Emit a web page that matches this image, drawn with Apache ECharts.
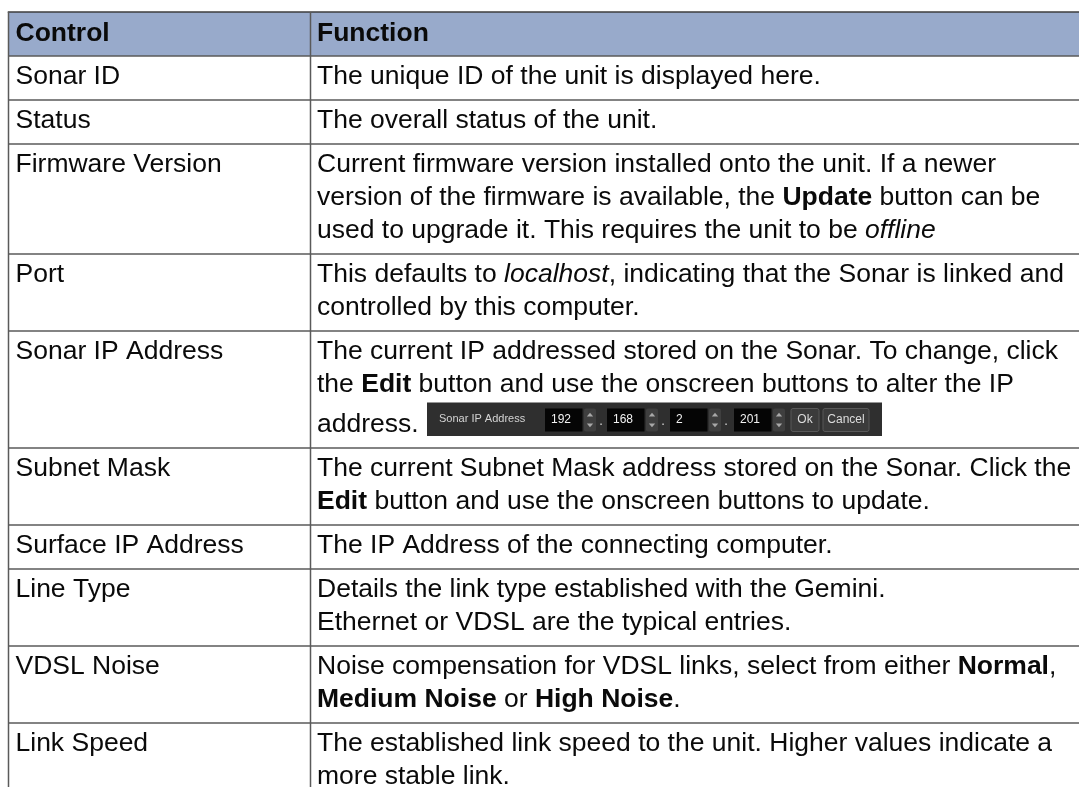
<!DOCTYPE html>
<html>
<head>
<meta charset="utf-8">
<script src="https://cdn.jsdelivr.net/npm/echarts@6/dist/echarts.min.js"></script>
<style>
html,body{margin:0;padding:0;background:#fff;}
#chart{width:1079px;height:787px;}
</style>
</head>
<body>
<div id="chart"></div>
<script>
// ---- data ----
const headers = ['Control', 'Function'];
const controls = ['Sonar ID', 'Status', 'Firmware Version', 'Port', 'Sonar IP Address',
  'Subnet Mask', 'Surface IP Address', 'Line Type', 'VDSL Noise', 'Link Speed'];
const functionLines = [
  ['The unique ID of the unit is displayed here.'],
  ['The overall status of the unit.'],
  ['Current firmware version installed onto the unit. If a newer',
   'version of the firmware is available, the {b|Update} button can be',
   'used to upgrade it. This requires the unit to be {i|offline}'],
  ['This defaults to {i|localhost}, indicating that the Sonar is linked and',
   'controlled by this computer.'],
  ['The current IP addressed stored on the Sonar. To change, click',
   'the {b|Edit} button and use the onscreen buttons to alter the IP',
   'address.'],
  ['The current Subnet Mask address stored on the Sonar. Click the',
   '{b|Edit} button and use the onscreen buttons to update.'],
  ['The IP Address of the connecting computer.'],
  ['Details the link type established with the Gemini.',
   'Ethernet or VDSL are the typical entries.'],
  ['Noise compensation for VDSL links, select from either {b|Normal},',
   '{b|Medium Noise} or {b|High Noise}.'],
  ['The established link speed to the unit. Higher values indicate a',
   'more stable link.']
];
// inline screenshot widget (row 'Sonar IP Address', last line)
const widgetRow = 'Sonar IP Address';
const widgetLabel = 'Sonar IP Address';
const ipOctets = ['192', '168', '2', '201'];
const widgetButtons = ['Ok', 'Cancel'];

// ---- layout ----
const W = 1079, H = 787;
const FONT = "'Liberation Sans', Arial, Helvetica, sans-serif";
const FS = 26.5;
const tableTop = 12, tableLeft = 8.5, colX = 310.5, tableRight = W + 2;
const firstBase = 30, lineStep = 33, rowBase = 44, widgetLineStep = 40;
const textPadL = 7, textPadF = 6.5;
const headerFill = '#98aacb', lineColor = '#5a5a5a', textColor = '#0a0a0a';

const ctx = document.createElement('canvas').getContext('2d');
function measure(txt, font) { ctx.font = font; return ctx.measureText(txt).width; }

const rich = {
  b: {fontWeight: 'bold', fontSize: FS, fontFamily: FONT, fill: textColor},
  i: {fontStyle: 'italic', fontSize: FS, fontFamily: FONT, fill: textColor}
};
function textEl(str, x, baseline, bold, z) {
  return {
    type: 'text', z: z || 10, silent: true,
    style: {
      text: str, x: x, y: baseline - 9.2,
      fontSize: FS, fontFamily: FONT, fontWeight: bold ? 'bold' : 'normal',
      fill: textColor, verticalAlign: 'middle', align: 'left', rich: rich
    }
  };
}
function line(x1, y1, x2, y2, color, w) {
  return {type: 'line', z: 20, silent: true,
    shape: {x1: x1, y1: y1, x2: x2, y2: y2},
    style: {stroke: color || lineColor, lineWidth: w || 1.5}};
}
function rect(x, y, w, h, fill, stroke, z, r) {
  return {type: 'rect', z: z || 30, silent: true,
    shape: {x: x, y: y, width: w, height: h, r: r || 0},
    style: {fill: fill, stroke: stroke || null, lineWidth: stroke ? 1 : 0}};
}
function smallText(str, x, y, color, size, align) {
  return {type: 'text', z: 40, silent: true,
    style: {text: str, x: x, y: y, fontSize: size || 12, fontFamily: FONT,
      fill: color, verticalAlign: 'middle', align: align || 'left'}};
}
function triangle(cx, cy, up) {
  const s = 3.2;
  const pts = up ? [[cx - s, cy + 1.6], [cx + s, cy + 1.6], [cx, cy - 2.2]]
                 : [[cx - s, cy - 1.6], [cx + s, cy - 1.6], [cx, cy + 2.2]];
  return {type: 'polygon', z: 41, silent: true, shape: {points: pts}, style: {fill: '#a8a8a8'}};
}

function buildWidget(x0, base) {
  const els = [];
  const top = base - 31.5, h = 33.5;
  els.push(rect(x0, top, 455, h, '#2f2f2f', null, 30));
  els.push(smallText(widgetLabel, x0 + 12, top + h / 2, '#d4d4d4', 11));
  const boxStarts = [118, 180, 243, 307];
  const boxW = 37.5;
  ipOctets.forEach(function (v, k) {
    const bx = x0 + boxStarts[k];
    els.push(rect(bx, top + 6, boxW, 23, '#050505', null, 31));
    els.push(smallText(v, bx + 6, top + 17.5, '#f2f2f2', 12));
    // spinner
    const sx = bx + boxW + 1.5;
    els.push(rect(sx, top + 6, 12, 23, '#3f3f3f', null, 31, 2));
    els.push(triangle(sx + 6, top + 12.5, true));
    els.push(triangle(sx + 6, top + 22.5, false));
    if (k < ipOctets.length - 1) {
      els.push(smallText('.', sx + 17, top + 19, '#d8d8d8', 13, 'center'));
    }
  });
  const btnX = [364, 396], btnW = [28, 46];
  widgetButtons.forEach(function (b, k) {
    const bx = x0 + btnX[k];
    els.push(rect(bx, top + 6, btnW[k], 23, '#3b3b3b', '#595959', 31, 2));
    els.push(smallText(b, bx + btnW[k] / 2, top + 17.5, '#dcdcdc', 12, 'center'));
  });
  return els;
}

const els = [];
// header
const headerH = rowBase;
els.push(rect(tableLeft, tableTop, tableRight - tableLeft, headerH, headerFill, null, 1));
els.push(textEl(headers[0], tableLeft + textPadL, tableTop + firstBase + 1, true));
els.push(textEl(headers[1], colX + textPadF, tableTop + firstBase + 1, true));
els.push(line(tableLeft - 0.75, tableTop, tableRight, tableTop, '#3c3c3c', 1.5));

let y = tableTop + headerH;
els.push(line(tableLeft, y, tableRight, y));
controls.forEach(function (c, r) {
  const lines = functionLines[r];
  const hasWidget = (c === widgetRow);
  let rowH = rowBase;
  for (let k = 1; k < lines.length; k++) {
    rowH += (hasWidget && k === lines.length - 1) ? widgetLineStep : lineStep;
  }
  els.push(textEl(c, tableLeft + textPadL, y + firstBase, false));
  let base = y + firstBase;
  lines.forEach(function (ln, k) {
    if (k > 0) base += (hasWidget && k === lines.length - 1) ? widgetLineStep : lineStep;
    els.push(textEl(ln, colX + textPadF, base, false));
    if (hasWidget && k === lines.length - 1) {
      const w = measure(ln + ' ', FS + 'px ' + FONT);
      buildWidget(colX + textPadF + w + 1, base).forEach(function (e) { els.push(e); });
    }
  });
  y += rowH;
  els.push(line(tableLeft, y, tableRight, y));
});
// verticals
els.push(line(tableLeft, tableTop, tableLeft, H + 5));
els.push(line(colX, tableTop, colX, H + 5));

const chart = echarts.init(document.getElementById('chart'), null, {renderer: 'canvas'});
chart.setOption({
  backgroundColor: '#ffffff',
  animation: false,
  graphic: {elements: els}
});
</script>
</body>
</html>
